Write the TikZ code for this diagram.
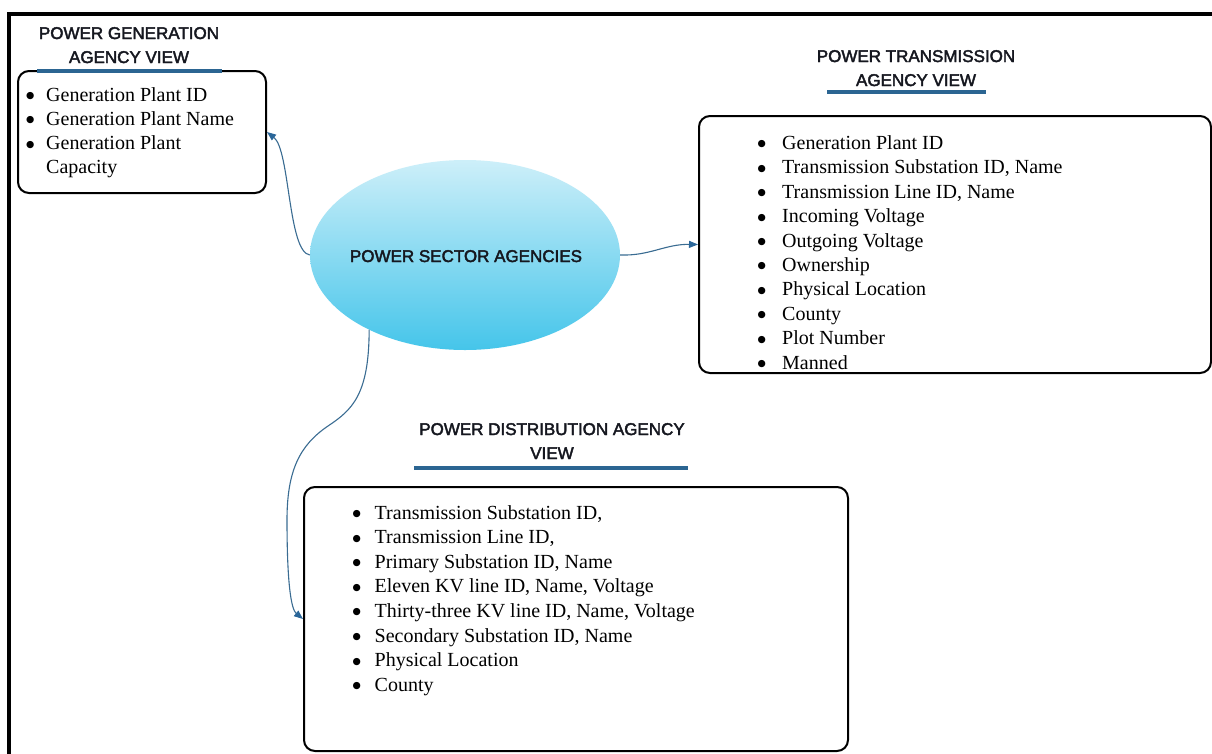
\documentclass[tikz,border=0pt]{standalone}
\usepackage{fontspec}
\setmainfont{Liberation Serif}
\newfontfamily\headfont[FakeBold=2.4]{Liberation Sans}
\newfontfamily\dotfont{DejaVu Sans}
\usetikzlibrary{arrows.meta,shapes.geometric}

\definecolor{linkblue}{HTML}{3A6C92}
\definecolor{tipblue}{HTML}{2A6699}
\definecolor{rulecol}{HTML}{2B6592}
\definecolor{ovaltop}{HTML}{CDEFF9}
\definecolor{ovalbot}{HTML}{45C5EA}
\definecolor{ink}{HTML}{15171F}

% round bullet for the item lists
\newcommand\itemdot{{\dotfont\fontsize{9.5}{11}\selectfont\raisebox{2.6pt}{●}}}

\tikzset{
  panel/.style={draw=black, line width=2pt, rounded corners=11pt, inner sep=0pt},
  heading/.style={font=\headfont\fontsize{17}{24}\selectfont, text=ink, inner sep=0pt, anchor=base},
  items/.style={font=\fontsize{20}{24.3}\selectfont, inner sep=0pt, anchor=base west},
  rulebar/.style={draw=rulecol, line width=3.5pt},
  link/.style={draw=linkblue, line width=1.1pt, -{Triangle[length=9pt,width=7pt,color=tipblue]}},
}

\begin{document}
\begin{tikzpicture}[x=1pt,y=-1pt]
\useasboundingbox (0,0) rectangle (1212,753);
\fill[white] (0,0) rectangle (1212,753);

% page frame (open at right and bottom)
\draw[line width=4pt] (9,760) -- (9,14) -- (1220,14);

% central oval
\node[ellipse, minimum width=310pt, minimum height=190pt, inner sep=0pt,
      top color=ovaltop, bottom color=ovalbot] (core) at (465,255) {};
\node[font=\headfont\fontsize{17}{20}\selectfont, text=ink, inner sep=0pt, anchor=base]
      (corelabel) at (466,262) {POWER SECTOR AGENCIES};

% generation agency
\node[panel, minimum width=248pt, minimum height=122pt] (gen) at (142,132) {};
\node[heading] (genhead) at (129,39)
  {\begin{tabular}[t]{@{}c@{}}POWER GENERATION\\AGENCY VIEW\end{tabular}};
\draw[rulebar] (37,71) -- (222,71);
\node[items] (genlist) at (26,101)
  {\begin{tabular}[t]{@{}p{20pt}@{}l@{}}
   \itemdot & Generation Plant ID\\
   \itemdot & Generation Plant Name\\
   \itemdot & Generation Plant\\
            & Capacity
   \end{tabular}};

% transmission agency
\node[panel, minimum width=512pt, minimum height=257pt] (trans) at (955,244.5) {};
\node[heading] (transhead) at (916,62)
  {\begin{tabular}[t]{@{}c@{}}POWER TRANSMISSION\\AGENCY VIEW\end{tabular}};
\draw[rulebar] (827,92) -- (986,92);
\node[items, font=\fontsize{20}{24.4}\selectfont] (translist) at (757.5,149.5)
  {\begin{tabular}[t]{@{}p{24.5pt}@{}l@{}}
   \itemdot & Generation Plant ID\\
   \itemdot & Transmission Substation ID, Name\\
   \itemdot & Transmission Line ID, Name\\
   \itemdot & Incoming Voltage\\
   \itemdot & Outgoing Voltage\\
   \itemdot & Ownership\\
   \itemdot & Physical Location\\
   \itemdot & County\\
   \itemdot & Plot Number\\
   \itemdot & Manned
   \end{tabular}};

% distribution agency
\node[panel, minimum width=544pt, minimum height=264pt] (dist) at (576,619) {};
\node[heading] (disthead) at (552,435)
  {\begin{tabular}[t]{@{}c@{}}POWER DISTRIBUTION AGENCY\\VIEW\end{tabular}};
\draw[rulebar] (414,468) -- (688,468);
\node[items, font=\fontsize{20}{24.6}\selectfont] (distlist) at (352.5,519)
  {\begin{tabular}[t]{@{}p{22pt}@{}l@{}}
   \itemdot & Transmission Substation ID,\\
   \itemdot & Transmission Line ID,\\
   \itemdot & Primary Substation ID, Name\\
   \itemdot & Eleven KV line ID, Name, Voltage\\
   \itemdot & Thirty-three KV line ID, Name, Voltage\\
   \itemdot & Secondary Substation ID, Name\\
   \itemdot & Physical Location\\
   \itemdot & County
   \end{tabular}};

% connectors
\draw[link] (core.west) .. controls (288,252) and (290,150) .. (gen.east);
\draw[link] (core.east) .. controls (650,256) and (665,244) .. (trans.west);
\draw[link] (core.218) .. controls (369,395) and (352,410) .. (328,426)
            .. controls (300,445) and (287,470) .. (287,520)
            .. controls (287,590) and (292,610) .. (dist.west);
\end{tikzpicture}
\end{document}
